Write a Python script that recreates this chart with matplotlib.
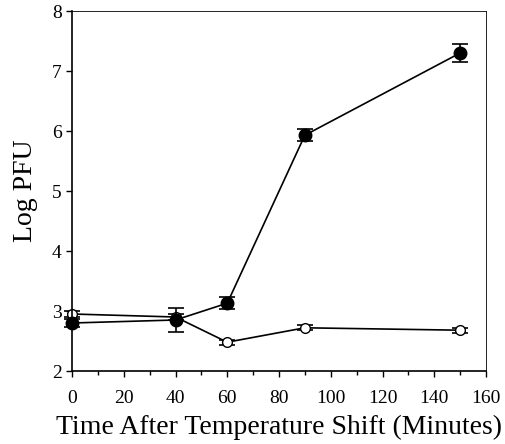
import numpy as np
import matplotlib.pyplot as plt
from matplotlib.ticker import MultipleLocator

plt.rcParams['font.family'] = ['Liberation Serif', 'DejaVu Serif']

# time after shift (minutes)
time = [0, 40, 60, 90, 150]

# filled circles
filled_y = [2.8, 2.85, 3.13, 5.93, 7.3]
filled_err = [0.06, 0.2, 0.1, 0.1, 0.15]

# open circles
open_y = [2.95, 2.9, 2.48, 2.72, 2.68]
open_err = [0.05, 0.05, 0.04, 0.04, 0.04]

fig = plt.figure(figsize=(5.05, 4.44), dpi=100)
ax = fig.add_axes([72/505, 1 - 371/444, (486-72)/505, (371-11)/444])

ax.errorbar(time, open_y, yerr=open_err, color='black', marker='o', markersize=7,
            markerfacecolor='white', markeredgecolor='black', linewidth=1.2,
            capsize=6, capthick=1.2, elinewidth=1.2, zorder=2, clip_on=False)
ax.errorbar(time, filled_y, yerr=filled_err, color='black', marker='o', markersize=9,
            markerfacecolor='black', linewidth=1.2,
            capsize=6, capthick=1.2, elinewidth=1.2, zorder=3, clip_on=False)

ax.set_xlim(0, 160)
ax.set_ylim(2, 8)
ax.xaxis.set_major_locator(MultipleLocator(20))
ax.xaxis.set_minor_locator(MultipleLocator(10))
ax.yaxis.set_major_locator(MultipleLocator(1))
ax.tick_params(axis='both', which='major', labelsize=14, direction='out', length=4, width=1)
ax.tick_params(axis='x', which='major', pad=10)
ax.tick_params(axis='x', which='minor', direction='out', length=3, width=1)
for s in ['top', 'right']:
    ax.spines[s].set_linewidth(0.6)
for s in ['left', 'bottom']:
    ax.spines[s].set_linewidth(1.2)

ax.set_xlabel('Time After Temperature Shift (Minutes)', fontsize=20, labelpad=5)
ax.set_ylabel('Log PFU', fontsize=20, labelpad=10)

fig.savefig('out.png', dpi=100)
